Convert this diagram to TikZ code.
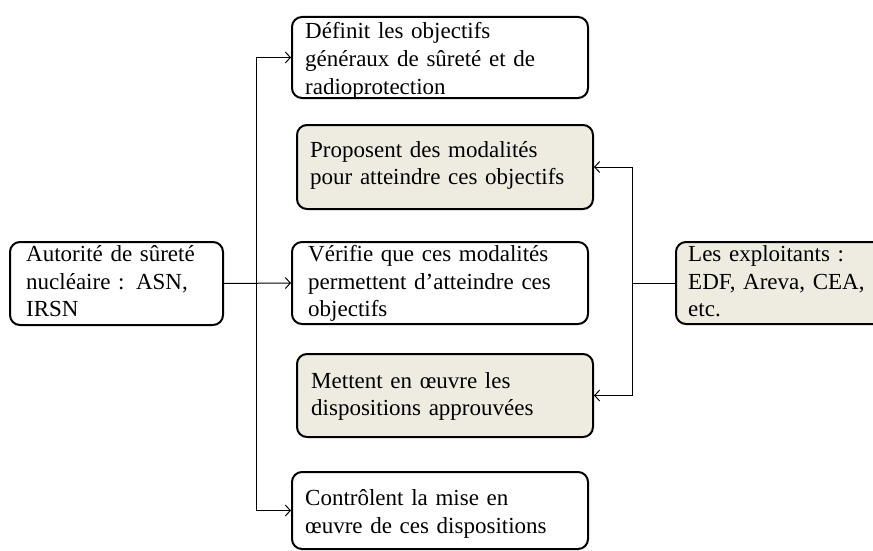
\documentclass[tikz,border=0pt]{standalone}
\usepackage{fontspec}
\setmainfont{Liberation Serif}
\usetikzlibrary{arrows.meta}
\definecolor{beige}{HTML}{EEECE1}
\begin{document}
\begin{tikzpicture}[x=1pt,y=-1pt,
  box/.style={draw=black, line width=2pt, rounded corners=10pt, inner sep=0pt,
    anchor=north west, minimum width=#1},
  wbox/.style={box=#1, fill=white},
  bbox/.style={box=#1, fill=beige},
  txt/.style={inner sep=0pt, anchor=base west, align=left, text width=#1,
    font=\fontsize{23}{27.6}\selectfont},
  conn/.style={line width=1pt},
  arr/.style={conn, -{Straight Barb[length=5pt,width=11pt]}}
]
\useasboundingbox (0,0) rectangle (873,551);
% boxes
\node[wbox=213pt, minimum height=83pt] (asn) at (9,241) {};
\node[wbox=296pt, minimum height=81pt] (b1) at (291,16) {};
\node[bbox=296pt, minimum height=84pt] (b2) at (296,124) {};
\node[wbox=296pt, minimum height=82pt] (b3) at (291,241) {};
\node[bbox=296pt, minimum height=83pt] (b4) at (296,353) {};
\node[wbox=296pt, minimum height=77pt] (b5) at (291,471) {};
\node[bbox=210pt, minimum height=82pt] (exp) at (675,241) {};
% texts
\node[txt=195pt] (tasn) at (26,261.7) {Autorité de sûreté\\nucléaire : ASN,\\IRSN};
\node[txt=280pt] (t1) at (305,39) {Définit les objectifs\\généraux de sûreté et de\\radioprotection};
\node[txt=280pt] (t2) at (310,157) {Proposent des modalités\\pour atteindre ces objectifs};
\node[txt=280pt] (t3) at (308,261.7) {Vérifie que ces modalités\\permettent d’atteindre ces\\objectifs};
\node[txt=280pt] (t4) at (311,388) {Mettent en œuvre les\\dispositions approuvées};
\node[txt=280pt] (t5) at (305,505.7) {Contrôlent la mise en\\œuvre de ces dispositions};
\node[txt=190pt] (texp) at (688,261.7) {Les exploitants :\\EDF, Areva, CEA,\\etc.};
% connectors
\coordinate (lj) at (256,282.5);
\coordinate (rj) at (632,282);
\draw[arr] (asn.east) -- (b3.west);
\draw[arr] (lj) |- (b1.west);
\draw[arr] (lj) |- (b5.west);
\draw[conn] (exp.west) -- (exp.west -| rj);
\draw[arr] (rj) |- (b2.east);
\draw[arr] (rj) |- (b4.east);
\end{tikzpicture}
\end{document}
